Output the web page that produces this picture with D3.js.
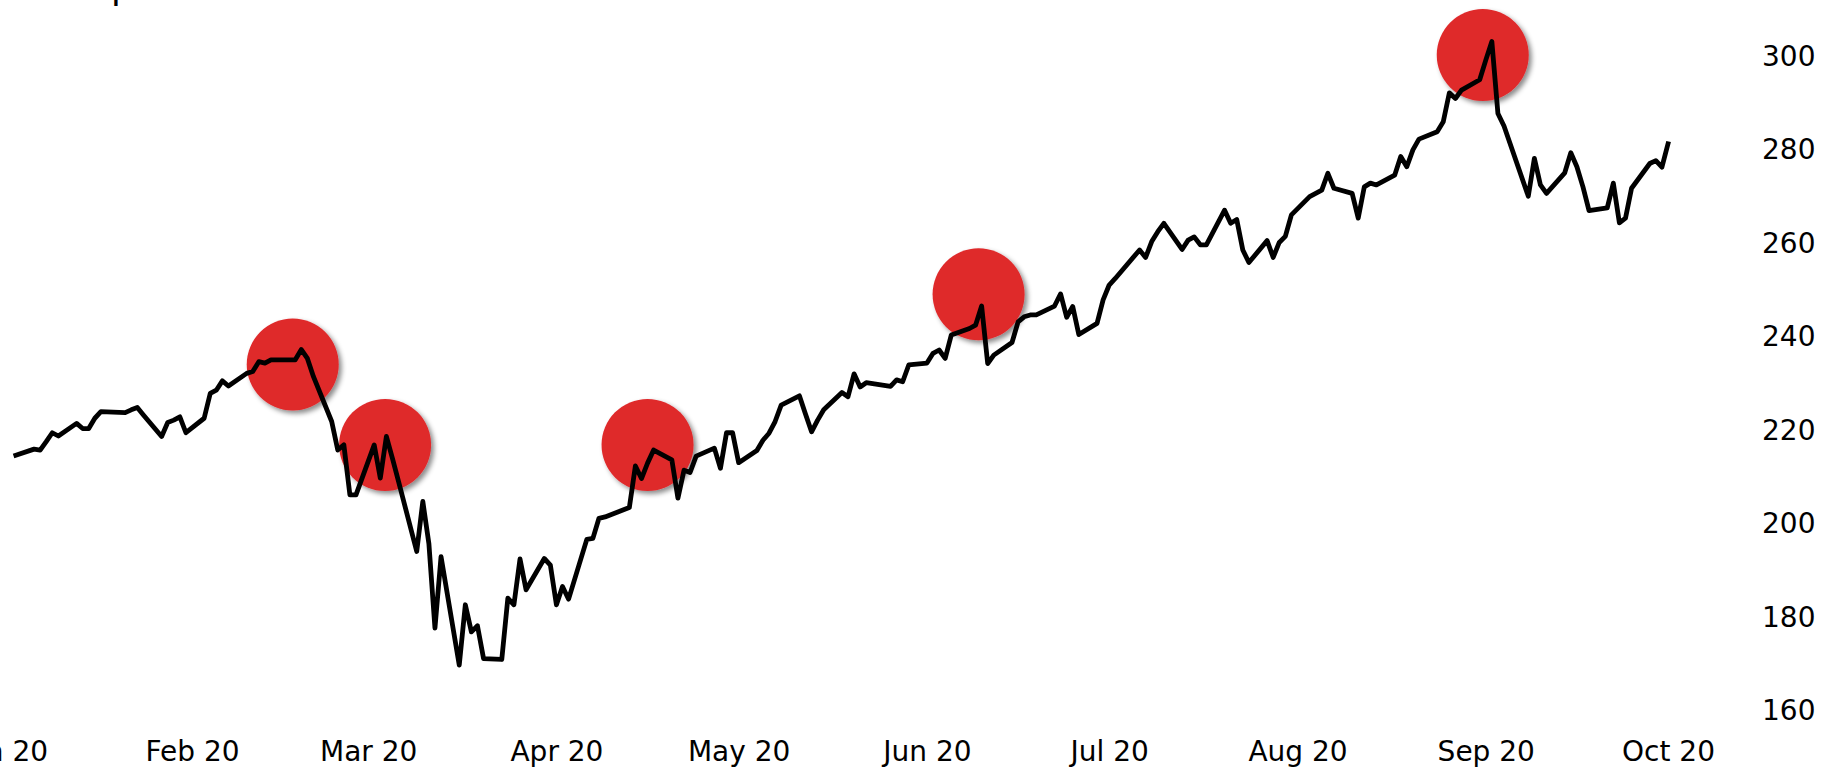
<!DOCTYPE html>
<html>
<head>
  <meta charset="UTF-8">
  <title>Stock price</title>
  <script src="https://d3js.org/d3.v7.min.js"></script>
  <style>
    html, body { margin: 0; padding: 0; background: #fff; overflow: hidden; }
    svg { display: block; }
    svg text { font-family: "DejaVu Sans", sans-serif; fill: #000; }
  </style>
</head>
<body>
  <div id="chart"></div>

  <script>
    // Closing prices, one per trading day
    const tradeDates = [
      "2020-01-03","2020-01-06","2020-01-07","2020-01-08","2020-01-09","2020-01-10",
      "2020-01-13","2020-01-14","2020-01-15","2020-01-16","2020-01-17",
      "2020-01-21","2020-01-22","2020-01-23","2020-01-24",
      "2020-01-27","2020-01-28","2020-01-29","2020-01-30","2020-01-31",
      "2020-02-03","2020-02-04","2020-02-05","2020-02-06","2020-02-07",
      "2020-02-10","2020-02-11","2020-02-12","2020-02-13","2020-02-14",
      "2020-02-18","2020-02-19","2020-02-20","2020-02-21",
      "2020-02-24","2020-02-25","2020-02-26","2020-02-27","2020-02-28",
      "2020-03-02","2020-03-03","2020-03-04","2020-03-05","2020-03-06",
      "2020-03-09","2020-03-10","2020-03-11","2020-03-12","2020-03-13",
      "2020-03-16","2020-03-17","2020-03-18","2020-03-19","2020-03-20",
      "2020-03-23","2020-03-24","2020-03-25","2020-03-26","2020-03-27",
      "2020-03-30","2020-03-31","2020-04-01","2020-04-02","2020-04-03",
      "2020-04-06","2020-04-07","2020-04-08","2020-04-09",
      "2020-04-13","2020-04-14","2020-04-15","2020-04-16","2020-04-17",
      "2020-04-20","2020-04-21","2020-04-22","2020-04-23","2020-04-24",
      "2020-04-27","2020-04-28","2020-04-29","2020-04-30","2020-05-01",
      "2020-05-04","2020-05-05","2020-05-06","2020-05-07","2020-05-08",
      "2020-05-11","2020-05-12","2020-05-13","2020-05-14","2020-05-15",
      "2020-05-18","2020-05-19","2020-05-20","2020-05-21","2020-05-22",
      "2020-05-26","2020-05-27","2020-05-28","2020-05-29",
      "2020-06-01","2020-06-02","2020-06-03","2020-06-04","2020-06-05",
      "2020-06-08","2020-06-09","2020-06-10","2020-06-11","2020-06-12",
      "2020-06-15","2020-06-16","2020-06-17","2020-06-18","2020-06-19",
      "2020-06-22","2020-06-23","2020-06-24","2020-06-25","2020-06-26",
      "2020-06-29","2020-06-30","2020-07-01","2020-07-02",
      "2020-07-06","2020-07-07","2020-07-08","2020-07-09","2020-07-10",
      "2020-07-13","2020-07-14","2020-07-15","2020-07-16","2020-07-17",
      "2020-07-20","2020-07-21","2020-07-22","2020-07-23","2020-07-24",
      "2020-07-27","2020-07-28","2020-07-29","2020-07-30","2020-07-31",
      "2020-08-03","2020-08-04","2020-08-05","2020-08-06","2020-08-07",
      "2020-08-10","2020-08-11","2020-08-12","2020-08-13","2020-08-14",
      "2020-08-17","2020-08-18","2020-08-19","2020-08-20","2020-08-21",
      "2020-08-24","2020-08-25","2020-08-26","2020-08-27","2020-08-28",
      "2020-08-31","2020-09-01","2020-09-02","2020-09-03","2020-09-04",
      "2020-09-08","2020-09-09","2020-09-10","2020-09-11",
      "2020-09-14","2020-09-15","2020-09-16","2020-09-17","2020-09-18",
      "2020-09-21","2020-09-22","2020-09-23","2020-09-24","2020-09-25",
      "2020-09-28","2020-09-29","2020-09-30","2020-10-01"
    ];

    const closePrices = [
      214.4,215.7,215.5,217.3,219.2,218.5,
      221.2,220.1,220.1,222.3,223.7,
      223.5,224.1,224.6,223.0,
      218.4,221.4,221.9,222.6,219.2,
      222.3,227.6,228.3,230.3,229.2,
      231.9,232.3,234.4,234.1,234.8,
      234.8,237.0,235.1,231.2,
      221.6,215.5,216.6,205.9,205.9,
      216.6,209.5,218.4,213.7,208.8,
      193.8,204.5,195.5,177.4,192.7,
      169.5,182.4,176.6,177.9,170.9,
      170.7,183.8,182.4,192.2,185.6,
      192.3,190.9,182.4,186.3,183.6,
      196.4,196.6,200.9,201.2,
      203.2,212.1,209.4,212.7,215.5,
      213.4,205.2,211.2,210.7,214.2,
      215.9,211.6,219.2,219.2,212.8,
      215.4,217.6,219.1,221.6,225.1,
      227.1,223.2,219.4,221.9,224.1,
      227.8,226.9,231.8,229.0,229.9,
      229.1,230.5,230.1,233.7,
      234.1,236.2,236.9,235.1,240.1,
      241.5,242.2,246.3,234.0,235.8,
      238.5,242.9,244.0,244.4,244.4,
      246.3,248.9,243.9,246.2,240.2,
      242.6,247.6,250.8,252.2,
      258.3,256.7,260.1,262.2,264.0,
      258.4,260.4,261.1,259.4,259.4,
      266.8,264.0,264.8,258.3,255.6,
      260.3,256.7,259.9,261.2,265.8,
      269.7,270.4,271.1,274.7,271.5,
      270.4,265.1,271.8,272.6,272.2,
      274.3,278.3,276.1,279.7,282.0,
      283.6,285.7,291.9,290.7,292.5,
      294.7,298.9,302.9,287.5,284.8,
      269.8,277.9,272.2,270.4,
      274.8,279.1,276.1,271.8,266.7,
      267.3,272.6,264.1,265.1,271.5,
      276.8,277.4,276.0,281.0
    ];

    // Highlighted moments (red circles)
    const markDates  = ["2020-02-17T14:00","2020-03-03T19:00","2020-04-16T00:00","2020-06-09T12:00","2020-08-31T12:00"];
    const markValues = [233.8, 216.6, 216.6, 248.8, 300.0];

    // Axis ticks
    const monthTicks = ["2020-01-01","2020-02-01","2020-03-01","2020-04-01","2020-05-01",
                        "2020-06-01","2020-07-01","2020-08-01","2020-09-01","2020-10-01"];
    const priceTicks = [160, 180, 200, 220, 240, 260, 280, 300];

    const chartTitle = "Stock price";

    // sizes
    const W = 1824, H = 768;

    const parseDay = d3.timeParse("%Y-%m-%d");
    const parseStamp = d3.timeParse("%Y-%m-%dT%H:%M");

    const data = tradeDates.map((d, i) => ({ date: parseDay(d), close: closePrices[i] }));
    const marks = markDates.map((d, i) => ({ date: parseStamp(d), value: markValues[i] }));
    const tickDates = monthTicks.map(parseDay);

    const svg = d3.select("#chart")
      .append("svg")
      .attr("width", W)
      .attr("height", H);

    // drop shadow for the circles
    const defs = svg.append("defs");
    defs.append("filter")
      .attr("id", "shadow")
      .attr("x", "-30%").attr("y", "-30%")
      .attr("width", "160%").attr("height", "160%")
      .append("feDropShadow")
      .attr("dx", 3).attr("dy", 3)
      .attr("stdDeviation", 2.5)
      .attr("flood-color", "#000")
      .attr("flood-opacity", 0.45);

    // scales
    const x = d3.scaleTime()
      .domain([tickDates[0], tickDates[tickDates.length - 1]])
      .range([3.7, 1668]);

    const y = d3.scaleLinear()
      .domain([160, 300])
      .range([709.5, 55]);

    // title, sitting above the picture (only the descenders show)
    svg.append("text")
      .attr("x", 0)
      .attr("y", -1)
      .style("font-size", "36px")
      .text(chartTitle);

    // X axis
    const xAxis = svg.append("g")
      .attr("transform", "translate(0,720)")
      .call(d3.axisBottom(x)
        .tickValues(tickDates)
        .tickFormat(d3.timeFormat("%b %y"))
        .tickSize(0)
        .tickPadding(21));
    xAxis.select(".domain").remove();
    xAxis.selectAll("text")
      .style("font-size", "28px")
      .attr("fill", "#000");

    // Y axis on the right
    const yAxis = svg.append("g")
      .attr("transform", "translate(1750,0)")
      .call(d3.axisRight(y)
        .tickValues(priceTicks)
        .tickFormat(d3.format("d"))
        .tickSize(0)
        .tickPadding(12));
    yAxis.select(".domain").remove();
    yAxis.selectAll("text")
      .attr("dy", "0.36em")
      .style("font-size", "28px")
      .attr("fill", "#000");

    // red circles
    svg.selectAll("circle.mark")
      .data(marks)
      .join("circle")
      .attr("class", "mark")
      .attr("cx", d => x(d.date))
      .attr("cy", d => y(d.value))
      .attr("r", 46)
      .attr("fill", "#df292c")
      .attr("filter", "url(#shadow)");

    // price line
    const line = d3.line()
      .x(d => x(d.date))
      .y(d => y(d.close));

    svg.append("path")
      .datum(data)
      .attr("d", line)
      .attr("fill", "none")
      .attr("stroke", "#000")
      .attr("stroke-width", 4.8)
      .attr("stroke-linejoin", "round")
      .attr("stroke-linecap", "square");
  </script>
</body>
</html>
